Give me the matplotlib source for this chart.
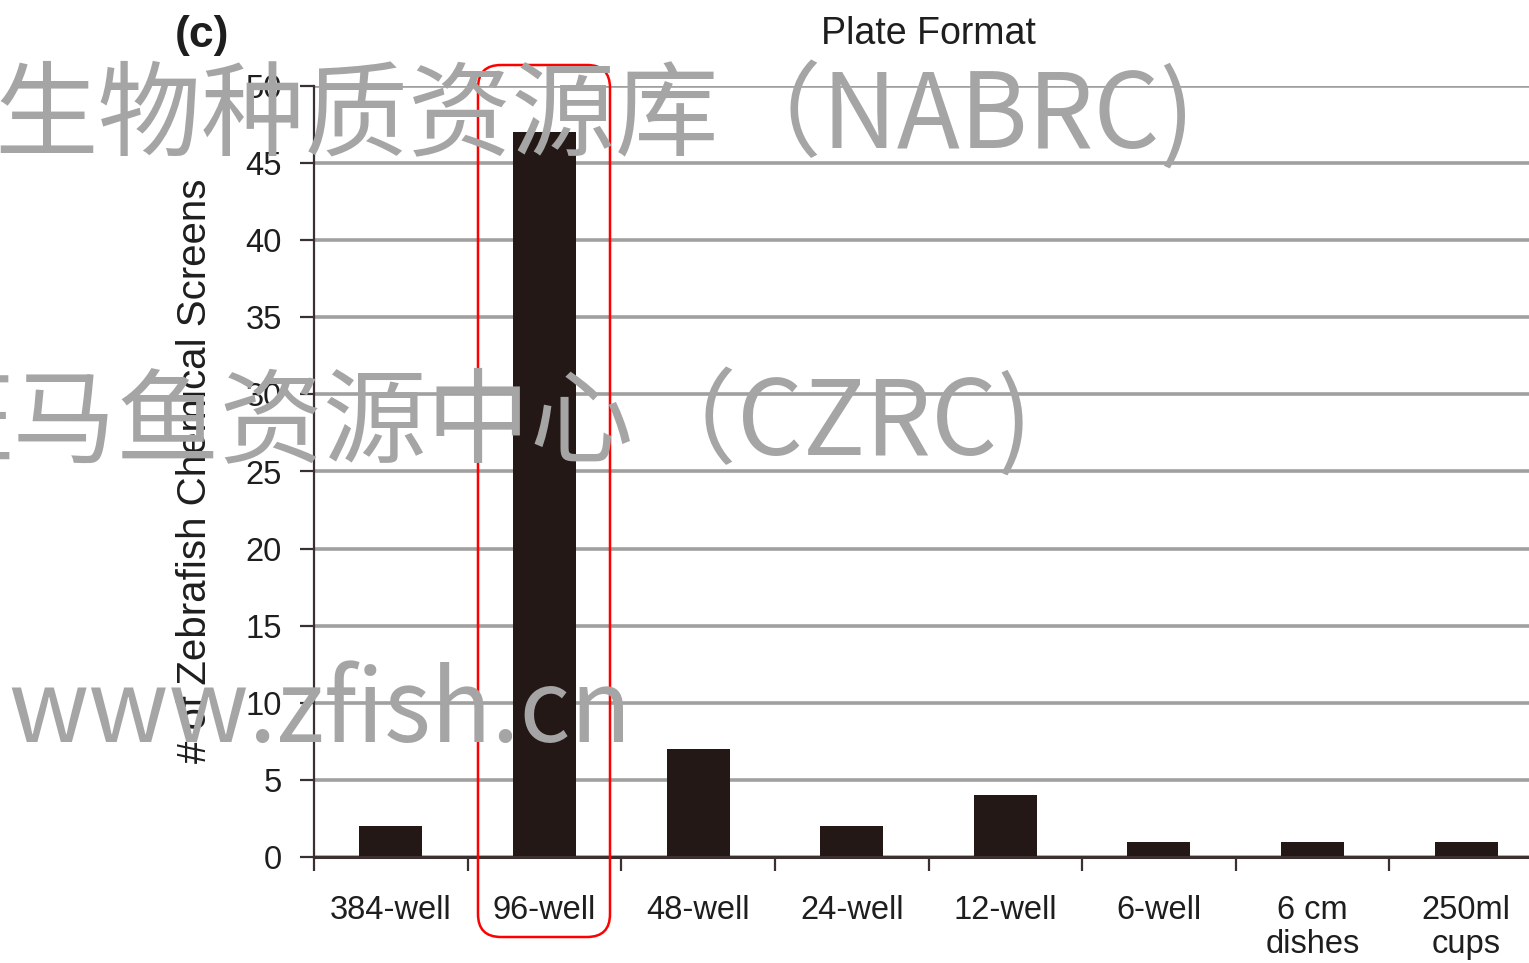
import matplotlib
matplotlib.use("Agg")
import matplotlib.pyplot as plt
from matplotlib.patches import FancyBboxPatch
from matplotlib.ticker import FixedLocator

categories = ["384-well", "96-well", "48-well", "24-well", "12-well", "6-well", "6 cm\ndishes", "250ml\ncups"]
screens = [2, 47, 7, 2, 4, 1, 1, 1]
yticks = [0, 5, 10, 15, 20, 25, 30, 35, 40, 45, 50]

W, H = 1529, 963
plt.rcParams['font.family'] = ['Liberation Sans', 'DejaVu Sans']
fig = plt.figure(figsize=(W / 100, H / 100), dpi=100)

def fx(px):
    return px / W

def fy(py):
    return 1 - py / H

ax_left, ax_right, ax_top, ax_bot = 314, 1543, 86, 857
ax = fig.add_axes([fx(ax_left), fy(ax_bot), fx(ax_right - ax_left), (ax_bot - ax_top) / H])

dark = '#231815'
txt = '#1e1e1e'
x = list(range(len(categories)))
ax.bar(x, screens, width=0.41, color=dark, zorder=3)
ax.set_xlim(-0.5, len(categories) - 0.5)
ax.set_ylim(0, 50)
ax.set_yticks(yticks)
ax.yaxis.grid(True, color='#a0a0a0', linewidth=2.6, zorder=1)
ax.set_axisbelow(True)

for s in ['top', 'right']:
    ax.spines[s].set_visible(False)
ax.spines['left'].set_color('#3a3030')
ax.spines['left'].set_linewidth(1.6)
ax.spines['bottom'].set_color('#3a3030')
ax.spines['bottom'].set_linewidth(2.2)
ax.spines['bottom'].set_zorder(4)

ax.set_xticks(x)
ax.set_xticklabels(categories, fontsize=23.5, color=txt, linespacing=1.15)
ax.xaxis.set_minor_locator(FixedLocator([i - 0.5 for i in range(len(categories) + 1)]))
ax.tick_params(axis='x', which='major', length=0, pad=27)
ax.tick_params(axis='x', which='minor', length=10, width=1.6, color='#3a3030', direction='out')
ax.tick_params(axis='y', which='major', length=10, width=1.6, color='#3a3030', labelsize=23.5,
               labelcolor=txt, pad=13)

ax.set_title("Plate Format", fontsize=27, color=txt, pad=30)
fig.text(fx(195), fy(471), "# of Zebrafish Chemical Screens", rotation=90, fontsize=29,
         color=txt, ha='center', va='center')
fig.text(fx(202), fy(35), "(c)", fontsize=32, fontweight='bold', color=txt,
         ha='center', va='center')

# red rounded highlight box
rx0, rx1, ry0, ry1 = 478, 610, 65, 937
box = FancyBboxPatch((fx(rx0), fy(ry1)), fx(rx1 - rx0), (ry1 - ry0) / H,
                     boxstyle="round,pad=0,rounding_size=0.015",
                     transform=fig.transFigure, fill=False, edgecolor='#ff0000',
                     linewidth=1.8, zorder=10, mutation_aspect=W / H)
fig.patches.append(box)

# watermark
wm_color = '#a5a5a5'
wm_font = ['Noto Sans CJK SC', 'DejaVu Sans']
fig.text(fx(-6), fy(148), "生物种质资源库（NABRC)", fontsize=74.5, color=wm_color,
         family=wm_font, ha='left', va='baseline', zorder=20)
fig.text(fx(-90), fy(455), "斑马鱼资源中心（CZRC)", fontsize=74.5, color=wm_color,
         family=wm_font, ha='left', va='baseline', zorder=20)
fig.text(fx(8), fy(742), "www.zfish.cn", fontsize=72, color=wm_color,
         family=wm_font, ha='left', va='baseline', zorder=20)

fig.savefig("out.png", dpi=100)
